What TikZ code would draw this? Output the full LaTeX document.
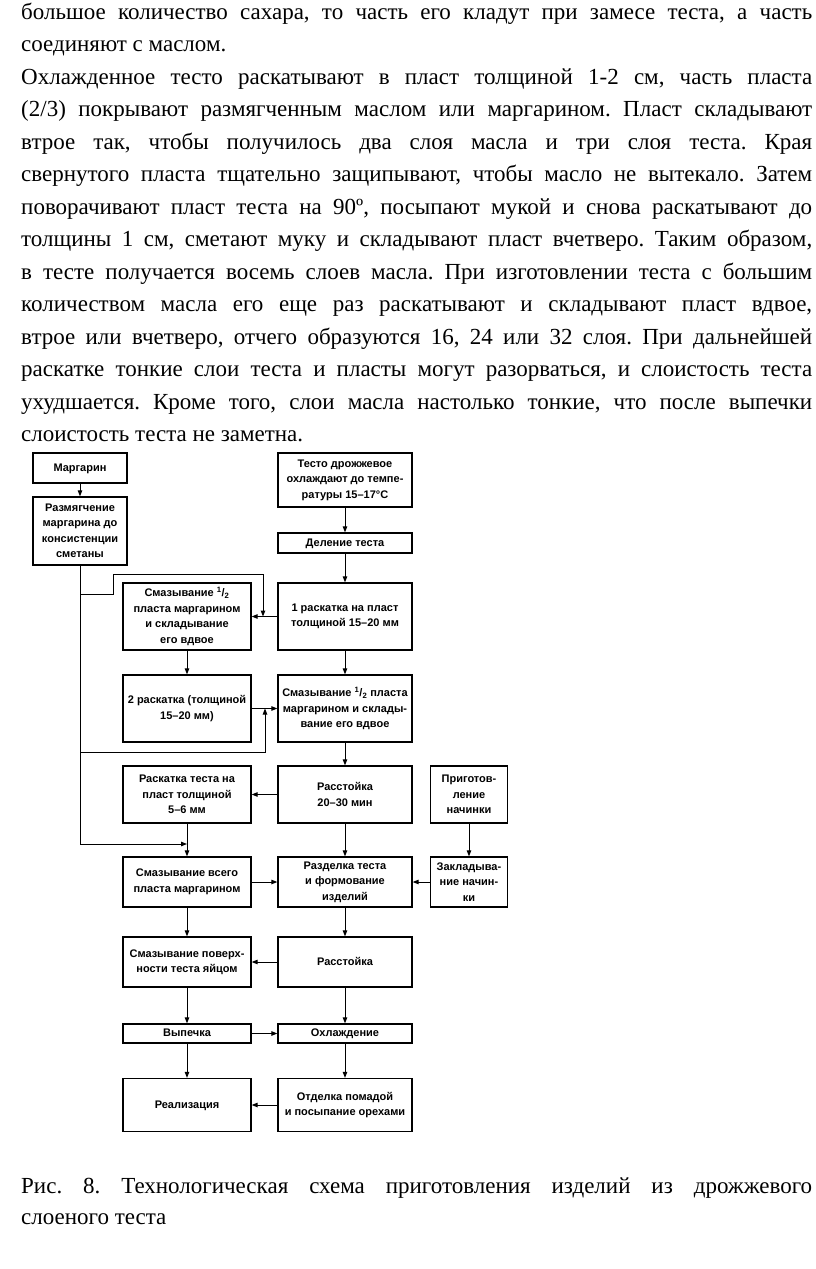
\documentclass[tikz,border=0pt]{standalone}
\usepackage{fontspec}
\setmainfont{Liberation Serif}
\newfontfamily\boxfont{Liberation Sans}
\usepackage{graphicx}
\usetikzlibrary{arrows.meta}
\frenchspacing

% one justified line of the text block
\newlength\linew
\newcommand\jline[1]{\settowidth\linew{#1}%
  \ifdim\linew>791pt \scalebox{\fpeval{791pt/\linew}}[1]{#1}%
  \else\makebox[791pt][s]{#1}\fi}

\begin{document}
\begin{tikzpicture}[x=1pt,y=1pt,
  box/.style={draw,line width=1.3pt,align=center,
    font=\boxfont\bfseries\fontsize{11}{15.5}\selectfont},
  oneline/.style={text height=8pt,text depth=2pt},
  arr/.style={line width=1pt,-{Triangle[length=6pt,width=4.5pt]}},
  txt/.style={anchor=base west,font=\fontsize{23}{33}\selectfont}]
\tikzstyle{every node}+=[inner sep=0pt]
\useasboundingbox (0,0) rectangle (816,-1269);
% text above
\node [txt] (t1) at (21,-19) {\jline{большое количество сахара, то часть его кладут при замесе теста, а часть}};
\node [txt] (t2) at (21,-51.5) {соединяют с маслом.};
\node [txt] (t3) at (21,-84) {\jline{Охлажденное тесто раскатывают в пласт толщиной 1-2 см, часть пласта}};
\node [txt] (t4) at (21,-116.5) {\jline{(2/3) покрывают размягченным маслом или маргарином. Пласт складывают}};
\node [txt] (t5) at (21,-149) {\jline{втрое так, чтобы получилось два слоя масла и три слоя теста. Края}};
\node [txt] (t6) at (21,-181.5) {\jline{свернутого пласта тщательно защипывают, чтобы масло не вытекало. Затем}};
\node [txt] (t7) at (21,-214) {\jline{поворачивают пласт теста на 90º, посыпают мукой и снова раскатывают до}};
\node [txt] (t8) at (21,-246.5) {\jline{толщины 1 см, сметают муку и складывают пласт вчетверо. Таким образом,}};
\node [txt] (t9) at (21,-279) {\jline{в тесте получается восемь слоев масла. При изготовлении теста с большим}};
\node [txt] (t10) at (21,-311.5) {\jline{количеством масла его еще раз раскатывают и складывают пласт вдвое,}};
\node [txt] (t11) at (21,-344) {\jline{втрое или вчетверо, отчего образуются 16, 24 или 32 слоя. При дальнейшей}};
\node [txt] (t12) at (21,-376.5) {\jline{раскатке тонкие слои теста и пласты могут разорваться, и слоистость теста}};
\node [txt] (t13) at (21,-409) {\jline{ухудшается. Кроме того, слои масла настолько тонкие, что после выпечки}};
\node [txt] (t14) at (21,-441) {слоистость теста не заметна.};
% boxes
\node [box,oneline,minimum width=94pt,minimum height=30pt] (marg) at (80,-468) {Маргарин};
\node [box,minimum width=94pt,minimum height=68pt] (soft) at (80,-531) {Размягчение\\маргарина до\\консистенции\\сметаны};
\node [box,minimum width=134pt,minimum height=54pt] (dough) at (345,-480) {Тесто дрожжевое\\охлаждают до темпе-\\ратуры 15–17°С};
\node [box,oneline,minimum width=134pt,minimum height=20pt] (div) at (345,-543) {Деление теста};
\node [box,minimum width=134pt,minimum height=67pt] (roll1) at (345,-616.5) {1 раскатка на пласт\\толщиной 15–20 мм};
\node [box,minimum width=128pt,minimum height=67pt] (smear1) at (187,-616.5) {Смазывание \textsuperscript{1}/\textsubscript{2}\\пласта маргарином\\и складывание\\его вдвое};
\node [box,minimum width=128pt,minimum height=67pt] (roll2) at (187,-708.5) {2 раскатка (толщиной\\15–20 мм)};
\node [box,minimum width=134pt,minimum height=67pt] (smear2) at (345,-708.5) {Смазывание \textsuperscript{1}/\textsubscript{2} пласта\\маргарином и склады-\\вание его вдвое};
\node [box,minimum width=128pt,minimum height=57pt] (roll3) at (187,-794.5) {Раскатка теста на\\пласт толщиной\\5–6 мм};
\node [box,minimum width=134pt,minimum height=57pt] (proof1) at (345,-794.5) {Расстойка\\20–30 мин};
\node [box,minimum width=77pt,minimum height=57pt] (fillprep) at (469,-794.5) {Приготов-\\ление\\начинки};
\node [box,minimum width=128pt,minimum height=50pt] (smear3) at (187,-882) {Смазывание всего\\пласта маргарином};
\node [box,minimum width=134pt,minimum height=50pt] (shape) at (345,-882) {Разделка теста\\и формование\\изделий};
\node [box,minimum width=77pt,minimum height=50pt] (fillin) at (469,-882) {Закладыва-\\ние начин-\\ки};
\node [box,minimum width=128pt,minimum height=50pt] (egg) at (187,-962) {Смазывание поверх-\\ности теста яйцом};
\node [box,oneline,minimum width=134pt,minimum height=50pt] (proof2) at (345,-962) {Расстойка};
\node [box,oneline,minimum width=128pt,minimum height=19pt] (bake) at (187,-1033.5) {Выпечка};
\node [box,oneline,minimum width=134pt,minimum height=19pt] (cool) at (345,-1033.5) {Охлаждение};
\node [box,oneline,minimum width=128pt,minimum height=53pt] (sale) at (187,-1105) {Реализация};
\node [box,minimum width=134pt,minimum height=53pt] (finish) at (345,-1105) {Отделка помадой\\и посыпание орехами};
% margarine lines
\coordinate (fork1) at (80,-594);
\coordinate (in1) at (263,-616.5);
\coordinate (fork2) at (80,-752);
\coordinate (in2) at (265,-708.5);
\coordinate (in3) at (187,-844);
\draw [arr] (marg) -- (soft);
\draw [arr] (soft.south) |- (in3);
\draw [arr] (fork1) -- ++(33,0) |- (in1 |- 0,-574) -- (in1);
\draw [arr] (fork2) -| (in2);
% main flow
\draw [arr] (dough) -- (div);
\draw [arr] (div) -- (roll1);
\draw [arr] (roll1) -- (smear1);
\draw [arr] (smear1) -- (roll2);
\draw [arr] (roll2) -- (smear2);
\draw [arr] (roll1) -- (smear2);
\draw [arr] (smear2) -- (proof1);
\draw [arr] (proof1) -- (roll3);
\draw [arr] (roll3) -- (smear3);
\draw [arr] (proof1) -- (shape);
\draw [arr] (fillprep) -- (fillin);
\draw [arr] (fillin) -- (shape);
\draw [arr] (smear3) -- (shape);
\draw [arr] (smear3) -- (egg);
\draw [arr] (shape) -- (proof2);
\draw [arr] (proof2) -- (egg);
\draw [arr] (egg) -- (bake);
\draw [arr] (proof2) -- (cool);
\draw [arr] (bake) -- (cool);
\draw [arr] (bake) -- (sale);
\draw [arr] (cool) -- (finish);
\draw [arr] (finish) -- (sale);
% caption
\node [txt] (cap1) at (21,-1193) {\jline{Рис. 8. Технологическая схема приготовления изделий из дрожжевого}};
\node [txt] (cap2) at (21,-1224) {слоеного теста};
\end{tikzpicture}
\end{document}
